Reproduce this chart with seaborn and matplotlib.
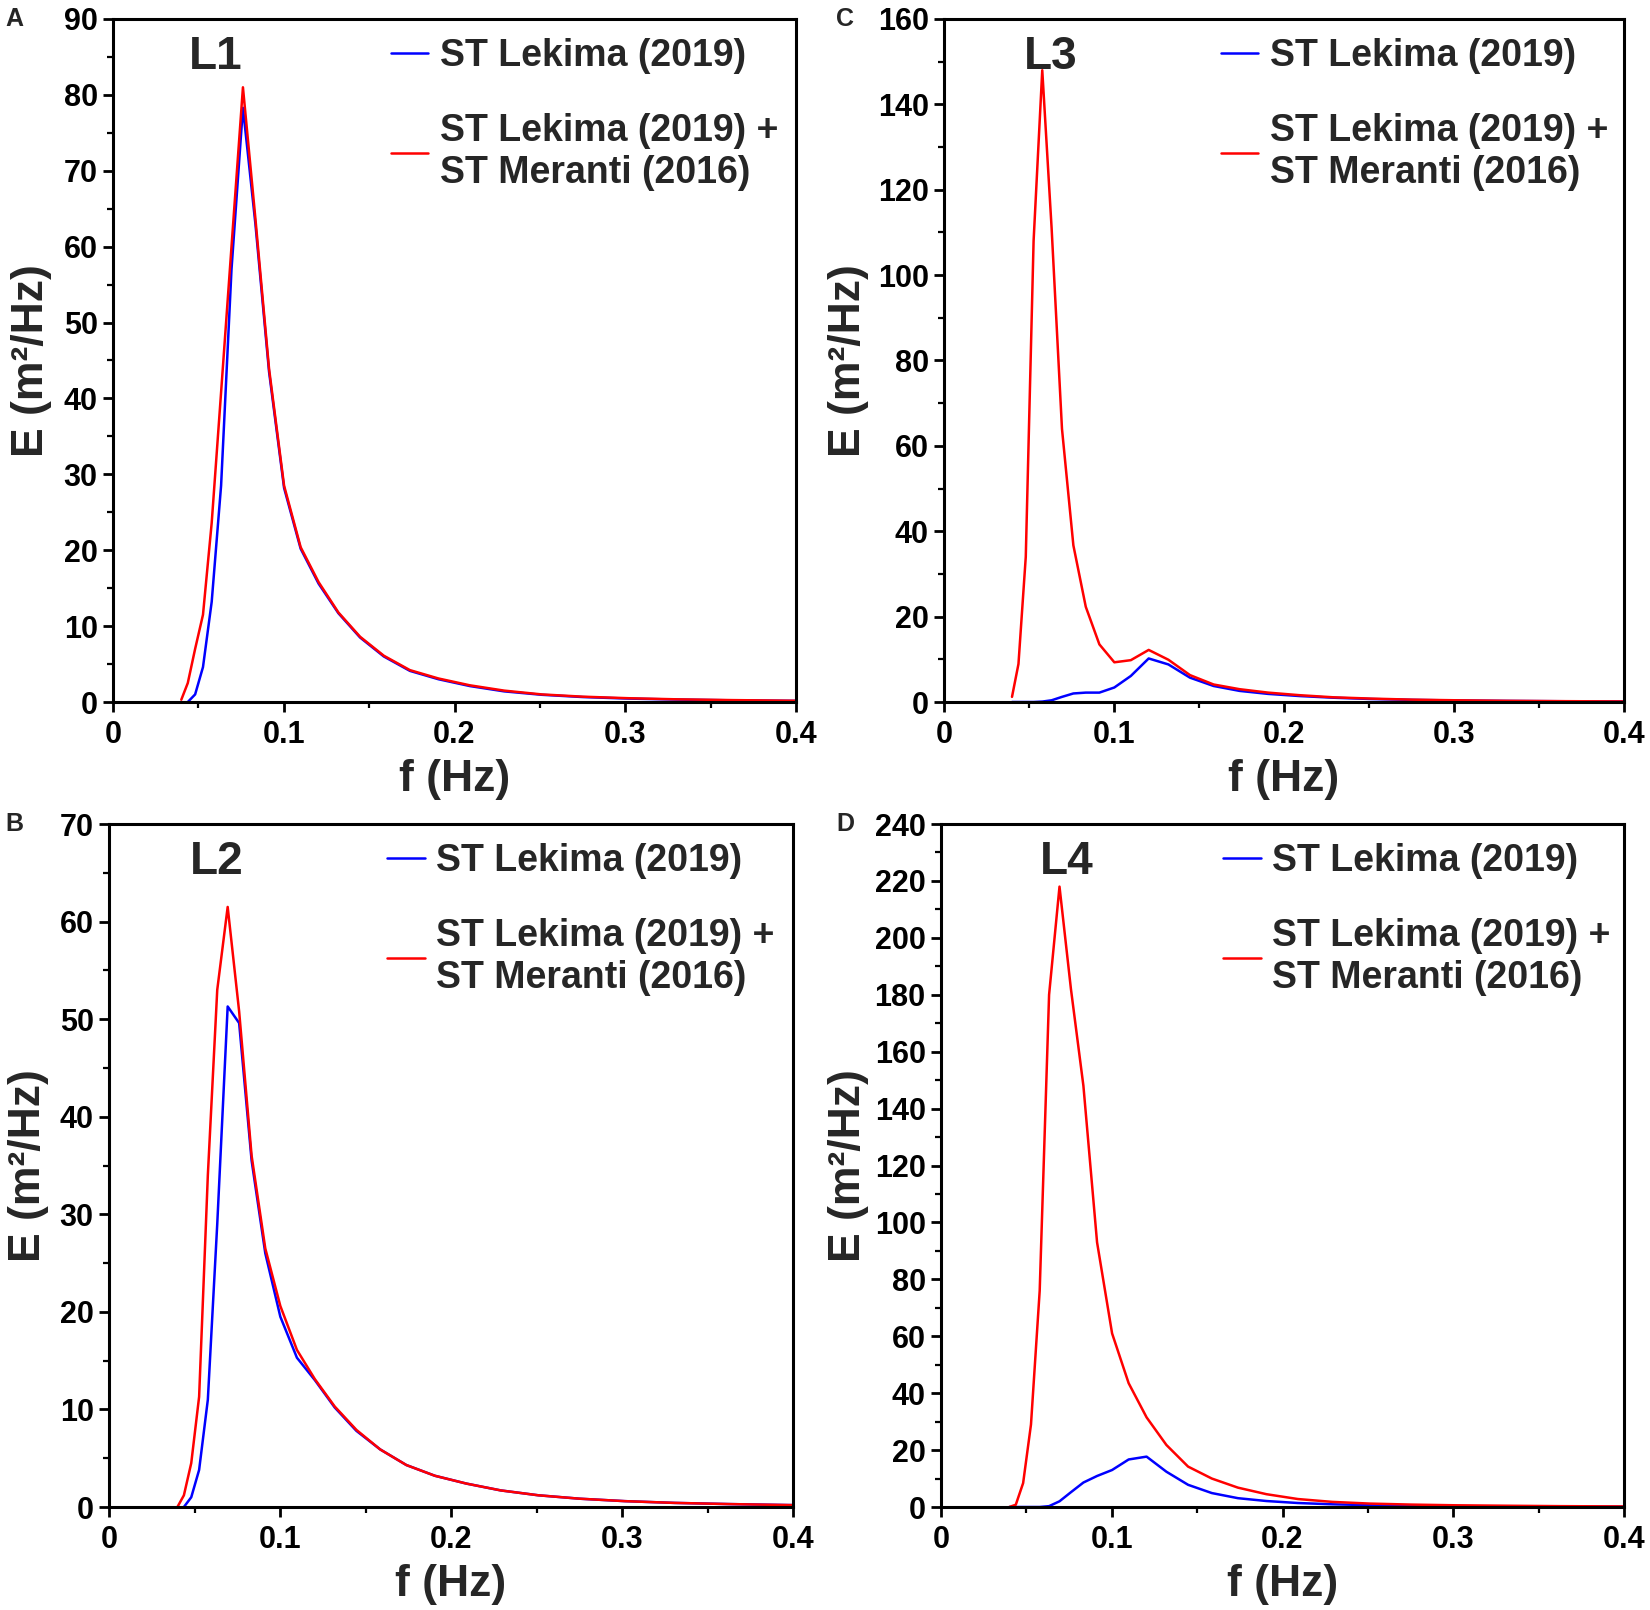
import numpy as np
import pandas as pd
import matplotlib
matplotlib.use("Agg")
import matplotlib.pyplot as plt
from matplotlib.ticker import MultipleLocator
import seaborn as sns

# ---------------- data ----------------
freq = [0.0400, 0.0438, 0.0481, 0.0527, 0.0578, 0.0633, 0.0694, 0.0761, 0.0834,
        0.0914, 0.1002, 0.1099, 0.1204, 0.1320, 0.1447, 0.1586, 0.1739, 0.1906,
        0.2090, 0.2291, 0.2511, 0.2753, 0.3017, 0.3308, 0.3626, 0.3975, 0.4357]

L1_lekima = [np.nan, 0, 1.0, 4.6, 13.2, 28.5, 57, 78.3, 63, 43.5, 28.2, 20.2, 15.6,
             11.7, 8.5, 6.0, 4.1, 3.0, 2.1, 1.4, 0.95, 0.65, 0.45, 0.32, 0.22, 0.15, 0.1]
L1_both = [0.3, 2.5, 7, 11.5, 23.6, 40.8, 60, 81, 63.7, 43.9, 28.5, 20.4, 15.8,
           11.8, 8.6, 6.1, 4.2, 3.1, 2.2, 1.5, 1.0, 0.7, 0.5, 0.35, 0.25, 0.17, 0.12]

L2_lekima = [np.nan, 0, 1.0, 3.8, 11, 29, 51.3, 49.6, 35.5, 26, 19.5, 15.3, 13,
             10.2, 7.8, 5.9, 4.3, 3.2, 2.4, 1.7, 1.2, 0.85, 0.6, 0.42, 0.3, 0.2, 0.14]
L2_both = [0, 1.2, 4.5, 11.3, 34, 53, 61.5, 50.8, 36, 26.5, 20.6, 16.1, 13.1,
           10.3, 7.9, 5.9, 4.3, 3.2, 2.4, 1.7, 1.2, 0.85, 0.6, 0.42, 0.3, 0.2, 0.14]

L3_lekima = [0, 0, 0, 0, 0.1, 0.4, 1.2, 2.0, 2.2, 2.2, 3.4, 6.1, 10.2,
             8.8, 5.7, 3.75, 2.6, 1.9, 1.4, 1.0, 0.7, 0.5, 0.35, 0.25, 0.18, 0.12, 0.08]
L3_both = [1.2, 8.9, 34, 108, 148, 111, 64, 36.7, 22.3, 13.5, 9.3, 9.8, 12.2,
           9.9, 6.3, 4.1, 3.0, 2.2, 1.6, 1.1, 0.8, 0.55, 0.4, 0.28, 0.2, 0.13, 0.09]

L4_lekima = [0, 0, 0, 0, 0, 0.3, 2.0, 5.2, 8.6, 10.9, 13, 16.7, 17.7,
             12.4, 7.8, 4.9, 3.1, 2.1, 1.4, 0.95, 0.65, 0.45, 0.3, 0.2, 0.14, 0.1, 0.07]
L4_both = [0, 0.8, 8.4, 29, 76, 180, 218, 182, 148, 93, 61, 43.5, 31.5,
           21.8, 14.2, 10, 6.8, 4.5, 2.8, 1.8, 1.2, 0.85, 0.6, 0.45, 0.3, 0.2, 0.15]

series_names = ["ST Lekima (2019)", "ST Lekima (2019) +\nST Meranti (2016)"]
panel_letters = ["A", "B", "C", "D"]
panel_titles = ["L1", "L2", "L3", "L4"]
y_max = [90, 70, 160, 240]
y_step = [10, 10, 20, 20]
x_ticks = [0, 0.1, 0.2, 0.3, 0.4]
x_ticklabels = ["0", "0.1", "0.2", "0.3", "0.4"]
panel_data = [(L1_lekima, L1_both), (L2_lekima, L2_both),
              (L3_lekima, L3_both), (L4_lekima, L4_both)]

# ---------------- style ----------------
sns.set_theme(style="ticks")
plt.rcParams["font.family"] = ["Liberation Sans", "DejaVu Sans"]
plt.rcParams["font.weight"] = "bold"
plt.rcParams["axes.labelweight"] = "bold"

W, H = 1650, 1610
fig = plt.figure(figsize=(W / 100, H / 100), dpi=100)

# axes rectangles in pixels: left, top, right, bottom
rects = [(113, 19, 796, 702), (109, 824, 793, 1507),
         (944, 19, 1624, 702), (941, 824, 1624, 1507)]
ylab_x = [-0.090, -0.088, -0.111, -0.106]
title_x = [0.151, 0.157, 0.157, 0.184]
leg_x = [0.407, 0.407, 0.407, 0.413]
letter_pos = [(5, 19), (5, 824), (836, 19), (836, 824)]

for k in range(4):
    l, t, r, b = rects[k]
    ax = fig.add_axes([l / W, 1 - b / H, (r - l) / W, (b - t) / H])
    lek, both = panel_data[k]
    df = pd.DataFrame({
        "f": freq * 2,
        "E": list(lek) + list(both),
        "series": [series_names[0]] * len(freq) + [series_names[1]] * len(freq),
    }).dropna()
    sns.lineplot(data=df, x="f", y="E", hue="series", hue_order=series_names,
                 palette=["#0000ff", "#ff0000"], linewidth=1.8, ax=ax,
                 estimator=None, sort=False)
    ax.set_xlim(0, 0.4)
    ax.set_ylim(0, y_max[k])
    ax.set_xticks(x_ticks)
    ax.set_xticklabels(x_ticklabels)
    ax.xaxis.set_minor_locator(MultipleLocator(0.05))
    ax.yaxis.set_major_locator(MultipleLocator(y_step[k]))
    ax.yaxis.set_minor_locator(MultipleLocator(y_step[k] / 2))
    ax.tick_params(axis="y", which="major", pad=4)
    ax.tick_params(axis="x", which="major", pad=6)
    ax.tick_params(axis="both", which="major", direction="out", length=7, width=2,
                   labelsize=22, colors="black")
    ax.tick_params(axis="both", which="minor", direction="out", length=4, width=1.6,
                   colors="black")
    for lab in ax.get_xticklabels() + ax.get_yticklabels():
        lab.set_fontweight("bold")
    for sp in ax.spines.values():
        sp.set_visible(True)
        sp.set_linewidth(2.2)
        sp.set_color("black")
    ax.set_xlabel("f (Hz)", fontsize=32, fontweight="bold")
    ax.set_ylabel("E (m²/Hz)", fontsize=32, fontweight="bold")
    ax.xaxis.set_label_coords(0.5, -0.084)
    ax.yaxis.set_label_coords(ylab_x[k], 0.5)
    ax.text(title_x[k], 0.945, panel_titles[k], transform=ax.transAxes,
            ha="center", va="center", fontsize=33, fontweight="bold")
    handles, labels = ax.get_legend_handles_labels()
    ax.legend(handles, labels, loc="upper left", bbox_to_anchor=(leg_x[k], 0.972),
              frameon=False, handlelength=1.0, handletextpad=0.3,
              labelspacing=1.05, borderpad=0, borderaxespad=0,
              prop={"weight": "bold", "size": 27})
    lx, ly = letter_pos[k]
    fig.text(lx / W, 1 - ly / H, panel_letters[k], ha="left", va="center",
             fontsize=18, fontweight="bold")

fig.savefig("out.png", dpi=100)
